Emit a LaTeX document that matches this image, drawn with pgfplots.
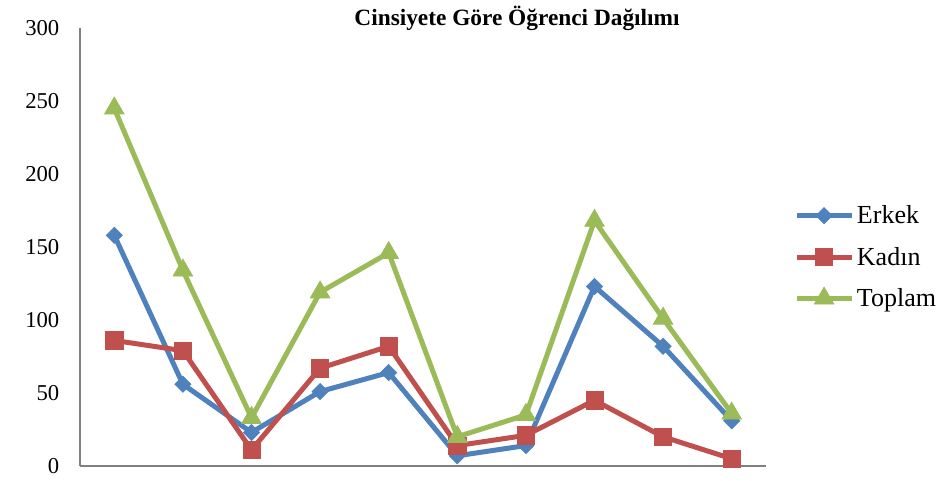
\documentclass[border=0pt]{standalone}
\usepackage{pgfplots}
\pgfplotsset{compat=1.18}
\usepackage{fontspec}
\setmainfont{Liberation Serif}
\definecolor{cblue}{HTML}{4F81BD}
\definecolor{cred}{HTML}{C0504D}
\definecolor{cgreen}{HTML}{9BBB59}
\begin{document}
\begin{tikzpicture}[x=0.75pt,y=0.75pt]
\path[use as bounding box] (0,0) rectangle (946,480);
\node[font=\bfseries\fontsize{17.5}{20}\selectfont] at (517,462) {Cinsiyete Göre Öğrenci Dağılımı};
\begin{axis}[
    at={(60pt,10.5pt)}, anchor=south west,
    scale only axis,
    width=514.5pt, height=328.5pt,
    xmin=0.5, xmax=10.5, ymin=0, ymax=300,
    xtick=\empty,
    ytick={0,50,...,300},
    axis x line*=bottom, axis y line*=left,
    axis line style={gray, line width=1pt, -},
    ytick style={draw=none},
    yticklabel style={xshift=-12pt},
    tick label style={font=\fontsize{17}{20}\selectfont},
    /pgf/number format/assume math mode=true,
    clip=false,
    legend style={at={(1.035,0.477)}, anchor=west, draw=none, fill=none,
      font=\fontsize{19.5}{23}\selectfont, row sep=12pt,
      /tikz/every even column/.append style={column sep=0pt}},
    legend cell align=left,
    legend image code/.code={
      \draw[mark repeat=2,mark phase=2] plot coordinates {(0cm,0cm) (0.72cm,0cm) (1.45cm,0cm)};},
  ]
  \addplot[cblue, line width=3.75pt, mark=square*, mark size=4.3pt,
    mark options={solid, line width=0.5pt, rotate=45}] coordinates {
    (1,158) (2,56) (3,23) (4,51) (5,64) (6,7) (7,14) (8,123) (9,82) (10,31)
  };
  \addplot[cred, line width=3.75pt, mark=square*, mark size=6.5pt,
    mark options={solid, line width=0.5pt}] coordinates {
    (1,86) (2,79) (3,11) (4,67) (5,82) (6,14) (7,21) (8,45) (9,20) (10,5)
  };
  \addplot[cgreen, line width=3.75pt, mark=triangle*, mark size=8.5pt,
    mark options={solid, line width=0.5pt}] coordinates {
    (1,245) (2,134) (3,33) (4,119) (5,146) (6,20) (7,35) (8,168) (9,101) (10,36)
  };
  \legend{Erkek, Kadın, Toplam}
\end{axis}
\end{tikzpicture}
\end{document}
